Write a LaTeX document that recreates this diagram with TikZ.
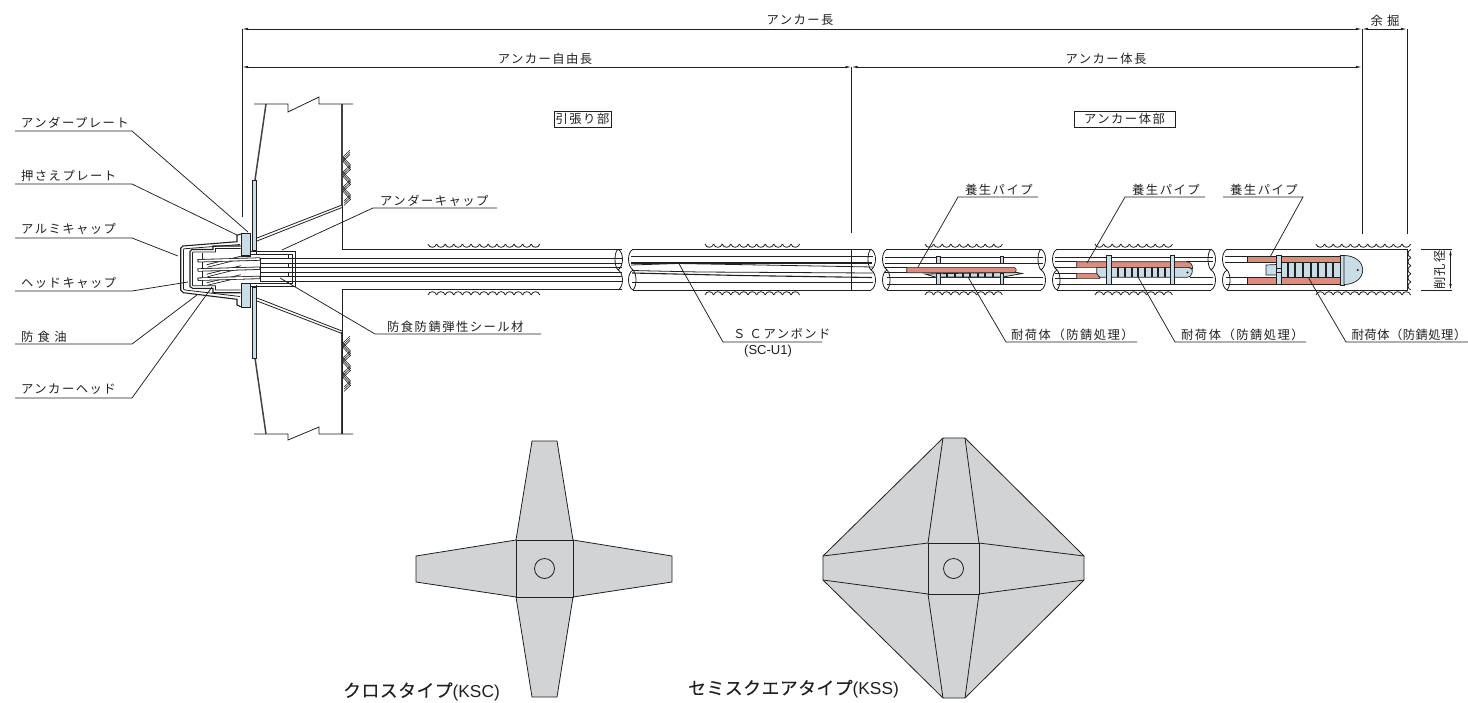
\documentclass[tikz,border=0pt]{standalone}
\usepackage{fontspec}
\setmainfont{Liberation Sans}
\newfontfamily\jp[LetterSpace=12]{Noto Sans CJK JP}
\newfontfamily\jpn[LetterSpace=4]{Noto Sans CJK JP}
\newfontfamily\jpt{Noto Sans CJK JP}
\newfontfamily\jpc[LetterSpace=3,FakeBold=0.15]{Noto Sans CJK JP}
\usetikzlibrary{arrows.meta}
\definecolor{ink}{HTML}{231F20}
\definecolor{pblue}{HTML}{C8DDE6}
\definecolor{pred}{HTML}{DD8C7E}
\definecolor{pgray}{HTML}{D2D3D5}
\tikzset{
 thinl/.style={draw=ink,line width=0.8pt},
 midl/.style={draw=ink,line width=1.1pt},
 thickl/.style={draw=ink!85,line width=1.8pt},
 leader/.style={draw=ink,line width=0.75pt},
 dim/.style={draw=ink,line width=0.8pt,{Latex[length=6pt,width=2.5pt]}-{Latex[length=6pt,width=2.5pt]}},
 lbl/.style={font=\jp\fontsize{12.3}{14}\selectfont,text=ink,inner sep=0pt},
 boxlbl/.style={lbl,draw=ink,line width=0.7pt,minimum height=16pt,inner sep=0pt},
 captxt/.style={font=\fontsize{17.3}{18}\selectfont,text=ink,inner sep=0pt},
 bluep/.style={fill=pblue,draw=ink,line width=0.7pt},
 redp/.style={fill=pred,draw=ink,line width=0.6pt},
 plate/.style={fill=pgray,draw=ink,line width=0.8pt},
 strandout/.style={draw=ink,line width=3.3pt},
 strandin/.style={draw=white,line width=1.7pt},
}
% name, text, text x, text y, line start, line knee, line y, target x, target y
\newcommand{\callout}[9]{%
 \node[lbl,anchor=west] (#1) at (#3,#4) {#2};
 \coordinate (#1-a) at (#5,#7);
 \coordinate (#1-b) at (#6,#7);
 \coordinate (#1-t) at (#8,#9);
 \draw[leader] (#1-a) -- (#1-b) -- (#1-t);
}
% from x, count, y, direction (+1 top, -1 bottom)
\newcommand{\scallop}[4]{%
 \foreach \k in {1,...,#2}{%
  \pgfmathsetmacro\xa{#1+(\k-1)*8.6}\pgfmathsetmacro\xb{\xa+8.6}%
  \pgfmathsetmacro\yc{#3-5*(#4)}%
  \pgfmathsetmacro\yd{#3-.6*(#4)}%
  \draw[thinl] (\xa,\yc) .. controls (\xa+1.2,\yd) and (\xb-1.2,\yd) .. (\xb,\yc);}}
% left end and right end of a cut tube
\newcommand{\leftbreak}[1]{%
 \draw[thinl] (#1+4,249.3) .. controls (#1-2,252) and (#1-2,266) .. (#1+4,270);
 \draw[thinl] (#1+4,270) .. controls (#1-2,273) and (#1-2,287) .. (#1+4,290);
 \draw[thinl] (#1+4,270) .. controls (#1+8,274) and (#1+8,286) .. (#1+4,290);}
\newcommand{\rightbreak}[1]{%
 \draw[thinl] (#1-4,249.3) .. controls (#1+2,252) and (#1+2,266) .. (#1-4,270);
 \draw[thinl] (#1-4,249.3) .. controls (#1-8,252) and (#1-8,266) .. (#1-4,270);
 \draw[thinl] (#1-4,270) .. controls (#1+2,273) and (#1+2,287) .. (#1-4,290);}
\newcommand{\chevrons}[1]{%
 \foreach \d in {0,2.2,4.4}{%
  \draw[draw=ink,line width=.6pt] (350,#1+\d) -- (343,#1+7+\d) -- (350.5,#1+15+\d) -- (343,#1+22+\d) -- (350.5,#1+30+\d) -- (343,#1+37+\d) -- (350.5,#1+45+\d) -- (344,#1+51+\d);}}
\begin{document}
\begin{tikzpicture}[x=1pt,y=-1pt]
\useasboundingbox (0,0) rectangle (1468,702);

% --- dimension system ---
\coordinate (d0t) at (242,29); \coordinate (d0m) at (242,67); \coordinate (d0b) at (242,217);
\coordinate (d1t) at (851.5,67); \coordinate (d1b) at (851.5,233);
\coordinate (d2t) at (1362,29); \coordinate (d2m) at (1362,67); \coordinate (d2b) at (1362,234);
\coordinate (d3t) at (1407,29); \coordinate (d3b) at (1407,234);
\draw[thinl] (d0t) -- (d0b);
\draw[thinl,line width=1pt] (d1t) -- (d1b);
\draw[thinl,line width=1pt] (d2t) -- (d2b);
\draw[thinl] (d3t) -- (d3b);
\draw[dim] (d0t) -- (d2t);
\draw[dim] (d2t) -- (d3t);
\draw[dim] (d0m) -- (d1t);
\draw[dim] (d1t) -- (d2m);
\node[lbl] (tAll) at (800,20.5) {アンカー長};
\node[lbl] (tFree) at (545,58.5) {アンカー自由長};
\node[lbl] (tBody) at (1106,58.5) {アンカー体長};
\node[lbl] (tExc) at (1385,20.5) {余 掘};
\node[boxlbl,minimum width=57pt] (bTen) at (582.5,119) {引張り部};
\node[boxlbl,minimum width=101pt] (bAnc) at (1124.5,119) {アンカー体部};

% --- structure wall ---
\draw[thinl] (254,104) -- (288,104) -- (288,112) -- (319,97) -- (319,104) -- (353,104);
\draw[thinl] (254,434) -- (288,434) -- (288,440) -- (319,427) -- (319,434) -- (353,434);
\draw[thickl,line width=1.5pt] (266,104) -- (255,180);
\draw[thickl,line width=1.5pt] (255,358) -- (266,434);
\draw[thickl] (342,104) -- (342,206);
\draw[thickl] (342,332) -- (342,434);
\draw[thinl] (342,206) -- (342,249) -- (622,249);
\draw[thinl] (342,434) -- (342,289.5) -- (622,289.5);
\chevrons{150}\chevrons{336}
\draw[thinl] (257,238) -- (342,205); \draw[thinl] (257,241) -- (342,207.5);
\draw[thinl] (257,298) -- (342,331); \draw[thinl] (257,301) -- (342,333.5);
\draw[bluep] (252.5,180) rectangle (256.5,250);
\draw[bluep] (252.5,287) rectangle (256.5,358);

% --- head assembly ---
\draw[midl] (240.7,234) -- (237,235.3) -- (237,241.7) -- (182.7,246) -- (180.7,248.3) -- (180.7,290) -- (183.3,292.7) -- (237,299.3) -- (237,305) -- (240.7,306.7);
\draw[thinl] (240,244.5) -- (184,248.8) -- (183.5,250) -- (183.5,289) -- (185,290) -- (240,296.5);
\draw[midl] (240.7,246) -- (213,246) -- (213,249.5) -- (191.7,249.5) -- (190,251.7) -- (190,286.7) -- (192.7,288.3) -- (213,288.3) -- (213,292.7) -- (240.7,292.7);
\draw[thinl] (240.7,248.5) -- (215.5,248.5) -- (215.5,252) -- (193,252) -- (192.5,253) -- (192.5,285) -- (193,285.8) -- (215.5,285.8) -- (215.5,290) -- (240.7,290);
\draw[thinl] (202,253) -- (202,286);
% under cap
\draw[thinl] (250,251.5) -- (295.5,251.5) -- (295.5,286.5) -- (250,286.5);
\draw[thinl] (250,254.5) -- (292.5,254.5) -- (292.5,283.5) -- (250,283.5);
\draw[thinl] (256.5,250) -- (256.5,254); \draw[thinl] (256.5,285) -- (256.5,287);
% diagonal wedge strands
\foreach \ya/\yb in {266/257.5,275.5/267,284/276}{%
 \draw[strandout] (207,\ya) -- (241,\yb);
 \draw[strandin] (207,\ya) -- (241,\yb);}
% main strand bars
\foreach \yy in {260,269.2,278.4}{%
 \draw[strandout] (197.5,\yy+.8) -- (260.5,\yy-1);
 \draw[strandin] (198.5,\yy+.8) -- (259.5,\yy-1);}
\draw[bluep] (241.5,233) rectangle (250,256);
\draw[bluep] (241.5,283) rectangle (250,307);
\draw[fill=ink,draw=none] (241.5,254.8) rectangle (250,256.5);
\draw[fill=ink,draw=none] (241.5,282.5) rectangle (250,284.2);
% --- tube section 1 strands ---
\foreach \yy in {258,263.5,267,272.5,276,281.7}{\draw[thinl] (260,\yy) -- (622,\yy);}
\rightbreak{622}
\draw[thinl] (260,258) -- (260,281.7);
\draw[thinl] (288,254.5) -- (288,258); \draw[thinl] (288,263.5) -- (288,267);
\draw[thinl] (288,272.5) -- (288,276); \draw[thinl] (288,281.7) -- (288,283.5);

% --- tube section 2 ---
\draw[thinl] (633,249.3) -- (871,249.3);
\draw[thinl] (633,290) -- (871,290);
\leftbreak{629}\rightbreak{875}
\draw[thinl] (631,256) -- (873,256);
\draw[midl] (631,263) -- (872,263);
\draw[thinl] (631,265) -- (678,263.5) -- (873,267);
\draw[thinl] (632,270.5) -- (700,272) -- (873,273);
\draw[midl] (632,273) -- (740,275.5) -- (872,277.5);
\draw[thinl] (632,282.7) -- (873,282.7);
\draw[midl] (851.5,249) -- (851.5,290);

% --- section 3 ---
\draw[thinl] (887,249.3) -- (1041,249.3);
\draw[thinl] (887,290) -- (1041,290);
\leftbreak{883}\rightbreak{1045}
\draw[thinl] (885,257.3) -- (1043,257.3);
\draw[thinl] (885,263.3) -- (1043,263.3);
\draw[thinl] (885,267.3) -- (907,267.3);
\draw[thinl] (885,272.7) -- (907,272.7);
\draw[thinl] (887,277.3) -- (1043,277.3);
\draw[thinl] (887,284) -- (1043,284);
\draw[thinl,fill=pblue] (925,274) -- (1000,272.5) -- (1017,272.5) -- (1022,273.5) -- (1003,277) -- (935,277) -- cycle;
\foreach \xx in {947,955,963,970,978,985,993}{\draw[draw=ink,line width=1.2pt] (\xx,273) -- (\xx,277.3);}
\draw[redp] (906.7,267.3) -- (1014,267.3) .. controls (1017,268) and (1017,272) .. (1014,272.7) -- (906.7,272.7) -- cycle;
\draw[bluep] (936,256) rectangle (940.7,263.3);
\draw[bluep] (936,273.5) rectangle (940.7,284.5);
\draw[bluep] (1000.7,256) rectangle (1003.3,263.3);
\draw[bluep] (1000.7,273.5) rectangle (1003.3,284.5);

% --- section 4 ---
\draw[thinl] (1057,249.3) -- (1211,249.3);
\draw[thinl] (1057,290) -- (1211,290);
\leftbreak{1053}\rightbreak{1215}
\draw[thinl] (1055,257.3) -- (1213,257.3);
\draw[thinl] (1055,261.7) -- (1077,261.7);
\draw[thinl] (1055,267.3) -- (1077,267.3);
\draw[thinl] (1055,273.3) -- (1077,273.3);
\draw[thinl] (1055,278.3) -- (1077,278.3);
\draw[thinl] (1057,284) -- (1213,284);
\draw[thinl] (1186,261.7) -- (1213,261.7);
\draw[thinl] (1190,277.3) -- (1213,277.3);
\draw[bluep] (1096.7,267.3) -- (1188,267.3) .. controls (1192,268) and (1193,270) .. (1192,273) .. controls (1191,276) and (1190,277.3) .. (1187,277.3) -- (1100,277.3) -- (1096.7,274) -- cycle;
\foreach \xx in {1118,1125,1132,1138,1145,1152,1158,1165}{\draw[draw=ink,line width=1.2pt] (\xx,267.3) -- (\xx,277.3);}
\draw[redp] (1076.7,261.7) -- (1186,261.7) .. controls (1191,262) and (1193,265) .. (1192.5,269) -- (1189,267.3) -- (1096.7,267.3) -- (1076.7,267.3) -- cycle;
\draw[redp] (1076.7,273.3) -- (1096.7,273.3) -- (1100,278.3) -- (1076.7,278.3) -- cycle;
\draw[bluep] (1106.7,255.5) rectangle (1111.7,284.5);
\draw[bluep] (1170,255.5) rectangle (1174,284.5);
\fill[ink] (1187.5,272.5) circle (1.2);

% --- section 5 ---
\draw[thinl] (1227,249.3) -- (1407,249.3) -- (1407,290) -- (1227,290);
\leftbreak{1223}
\draw[thinl] (1225,256) -- (1247,256);
\draw[thinl] (1225,262.3) -- (1247,262.3);
\draw[thinl] (1226,277.7) -- (1247,277.7);
\draw[thinl] (1226,284) -- (1247,284);
\draw[bluep] (1266,265) -- (1277,264.5) -- (1277,275) -- (1266,275) -- cycle;
\draw[bluep] (1281,262.3) rectangle (1342,277.7);
\foreach \xx in {1288,1295,1303,1311,1318,1326,1333}{\draw[draw=ink,line width=1.2pt] (\xx,262.3) -- (\xx,277.7);}
\draw[redp] (1247,256) rectangle (1342,262.3);
\draw[redp] (1247,277.7) rectangle (1342,284);
\draw[bluep] (1276.7,255.5) rectangle (1281.7,284.5);
\draw[draw=ink,line width=.6pt] (1276.7,268) -- (1281.7,268); \draw[draw=ink,line width=.6pt] (1276.7,272) -- (1281.7,272);
\draw[bluep] (1340.5,255) rectangle (1344,285);
\draw[bluep] (1344,255.5) .. controls (1355,255.5) and (1362.7,262) .. (1362.7,270) .. controls (1362.7,278) and (1355,284.5) .. (1344,284.5) -- cycle;
\fill[ink] (1357.7,270) circle (1.1);

% --- scallops (bond surface) ---
\scallop{428}{13}{249}{1}\scallop{428}{13}{290}{-1}
\scallop{705}{11}{249}{1}\scallop{705}{11}{290}{-1}
\scallop{925}{9}{249}{1}\scallop{925}{9}{290}{-1}
\scallop{1095}{9}{249}{1}\scallop{1095}{9}{290}{-1}
\scallop{1316}{11}{249}{1}\scallop{1316}{11}{290}{-1}
\foreach \k in {0,...,4}{%
 \draw[thinl] (1411,249.5+\k*8.1) .. controls (1407,250.5+\k*8.1) and (1407,256.5+\k*8.1) .. (1411,257.6+\k*8.1);}

% --- hole diameter ---
\coordinate (h1a) at (1421,249.3); \coordinate (h1b) at (1452,249.3);
\coordinate (h2a) at (1421,290); \coordinate (h2b) at (1452,290);
\coordinate (h1) at (1450.5,249.3); \coordinate (h2) at (1450.5,290);
\draw[thinl] (h1a) -- (h1b); \draw[thinl] (h2a) -- (h2b);
\draw[dim] (h1) -- (h2);
\node[font=\jp\fontsize{12.3}{14}\selectfont,text=ink,inner sep=0pt,rotate=90] (tHole) at (1440,270) {削孔径};

% --- callouts ---
\callout{c1}{アンダープレート}{21}{122.5}{15}{132}{131}{248}{232}
\callout{c2}{押さえプレート}{21}{175.5}{15}{132}{184}{237}{235}
\callout{c3}{アルミキャップ}{21}{228.5}{15}{132}{238}{178}{256}
\callout{c4}{ヘッドキャップ}{21}{282.5}{15}{132}{291}{188}{282}
\callout{c5}{防 食 油}{21}{336.5}{15}{132}{344}{197}{295}
\callout{c6}{アンカーヘッド}{21}{389.5}{15}{132}{398}{212}{287}
\callout{c7}{アンダーキャップ}{380}{200.5}{497}{373}{208}{282}{250}
\callout{c8}{防食防錆弾性シール材}{387}{326.5}{541}{375}{334}{280}{278}
\callout{c9}{Ｓ Ｃアンボンド}{733}{333.5}{822}{723}{342}{678}{262}
\node[font=\fontsize{13}{14}\selectfont,text=ink,inner sep=0pt] (c9b) at (768,351) {(SC-U1)};
\callout{c10}{養生パイプ}{965}{189.5}{1038}{958}{197}{918}{267}
\callout{c11}{養生パイプ}{1132}{189.5}{1205}{1125}{197}{1087}{263}
\callout{c12}{養生パイプ}{1230}{189.5}{1223}{1303}{197}{1270}{257}
\callout{c13}{耐荷体（防錆処理）}{1011}{334.5}{1137}{1006}{342}{968}{277}
\callout{c14}{耐荷体（防錆処理）}{1181}{334.5}{1306}{1175}{342}{1138}{277}
\callout{c15}{{\jpn 耐荷体（防錆処理）}}{1351.5}{334.5}{1468}{1346}{342}{1308}{277}

% --- anchor plates ---
\draw[plate] (532,441) -- (557,441) -- (573,540) -- (672,556) -- (672,582) -- (573,597) -- (557,697) -- (532,697) -- (516,597) -- (416,582) -- (416,556) -- (516,540) -- cycle;
\draw[thinl] (516,540) rectangle (573,597);
\draw[thinl] (544.5,568.5) circle (10);
\draw[plate] (943,438) -- (965,438) -- (1084,556) -- (1084,580) -- (965,698) -- (943,698) -- (823,580) -- (823,556) -- cycle;
\draw[thinl] (928,543) rectangle (979,594);
\draw[thinl] (953.5,568.5) circle (10);
\draw[thinl] (928,543) -- (943,438); \draw[thinl] (979,543) -- (965,438);
\draw[thinl] (928,543) -- (823,556); \draw[thinl] (928,594) -- (823,580);
\draw[thinl] (979,543) -- (1084,556); \draw[thinl] (979,594) -- (1084,580);
\draw[thinl] (928,594) -- (943,698); \draw[thinl] (979,594) -- (965,698);
\node[captxt,anchor=west] (kKsc) at (343,691.5) {{\jpc\fontsize{17.8}{18}\selectfont クロスタイプ}(KSC)};
\node[captxt,anchor=west] (kKss) at (688,689) {{\jpc\fontsize{17.8}{18}\selectfont セミスクエアタイプ}(KSS)};
\end{tikzpicture}
\end{document}
